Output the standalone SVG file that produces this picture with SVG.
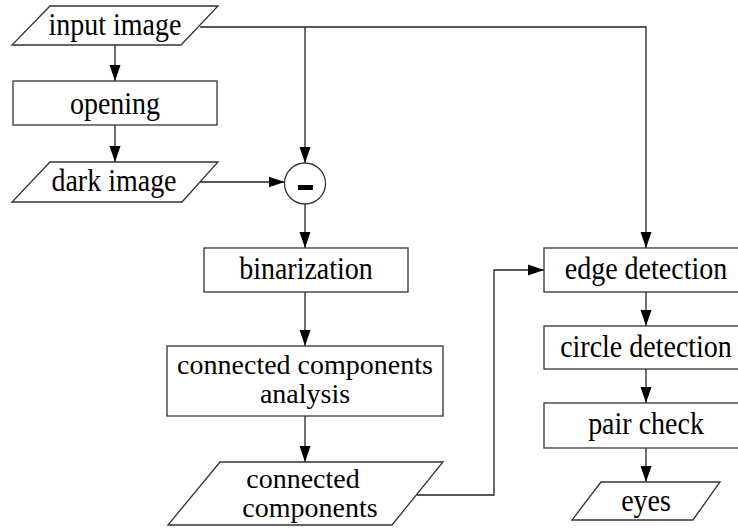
<svg xmlns="http://www.w3.org/2000/svg" width="738" height="529" viewBox="0 0 738 529">
  <style>
    .shape { fill: #ffffff; stroke: #333333; stroke-width: 1.3; }
    .label { font-family: "Liberation Serif", "Times New Roman", serif; font-size: 28px; fill: #000000; text-anchor: middle; }
    .wire { fill: none; stroke: #222222; stroke-width: 1.3; }
  </style>
  <defs>
    <marker id="arrow" markerWidth="16" markerHeight="12" refX="16" refY="6" orient="auto" markerUnits="userSpaceOnUse">
      <path d="M0,0.5 L16,6 L0,11.5 Z" fill="#000000"/>
    </marker>
  </defs>
  <rect width="738" height="529" fill="#ffffff"/>

  <!-- connectors -->
  <g id="connectors">
    <path class="wire" d="M115,45 V81" marker-end="url(#arrow)"/>
    <path class="wire" d="M115,125 V162" marker-end="url(#arrow)"/>
    <path class="wire" d="M200,27 H646 V248" marker-end="url(#arrow)"/>
    <path class="wire" d="M305,27 V163" marker-end="url(#arrow)"/>
    <path class="wire" d="M200,182 H284.5" marker-end="url(#arrow)"/>
    <path class="wire" d="M305,204 V248" marker-end="url(#arrow)"/>
    <path class="wire" d="M305,292 V346" marker-end="url(#arrow)"/>
    <path class="wire" d="M305,416 V462" marker-end="url(#arrow)"/>
    <path class="wire" d="M417,495 H494 V270 H544" marker-end="url(#arrow)"/>
    <path class="wire" d="M646,292 V326" marker-end="url(#arrow)"/>
    <path class="wire" d="M646,369 V403" marker-end="url(#arrow)"/>
    <path class="wire" d="M646,448 V482" marker-end="url(#arrow)"/>
  </g>

  <!-- single-line labels are set slightly tall: scale(1,1.15) about the baseline point -->
  <g id="input-image">
    <polygon class="shape" points="50,6 218,6 181,45 12,45"/>
    <text class="label" transform="translate(115,35) scale(1,1.15)">input image</text>
  </g>
  <g id="opening">
    <rect class="shape" x="13" y="81" width="204" height="44"/>
    <text class="label" transform="translate(115,113.5) scale(1,1.15)">opening</text>
  </g>
  <g id="dark-image">
    <polygon class="shape" points="50,162 218,162 182,202 12,202"/>
    <text class="label" transform="translate(114,191) scale(1,1.15)">dark image</text>
  </g>
  <g id="subtract">
    <circle class="shape" cx="305" cy="183.5" r="20.5"/>
    <rect x="298" y="185" width="15" height="5" fill="#000000"/>
  </g>
  <g id="binarization">
    <rect class="shape" x="204" y="248" width="204" height="44"/>
    <text class="label" transform="translate(306,279) scale(1,1.15)">binarization</text>
  </g>
  <g id="cc-analysis">
    <rect class="shape" x="167" y="346" width="276" height="70"/>
    <text class="label" x="305" y="374">connected components</text>
    <text class="label" x="305" y="403">analysis</text>
  </g>
  <g id="connected-components">
    <polygon class="shape" points="220,462 443,462 392,525 168,525"/>
    <text class="label" x="303" y="488">connected</text>
    <text class="label" x="310" y="517">components</text>
  </g>
  <g id="edge-detection">
    <rect class="shape" x="544" y="248" width="204" height="44"/>
    <text class="label" transform="translate(646,279) scale(1,1.15)">edge detection</text>
  </g>
  <g id="circle-detection">
    <rect class="shape" x="544" y="326" width="204" height="43"/>
    <text class="label" transform="translate(646,357) scale(1,1.15)">circle detection</text>
  </g>
  <g id="pair-check">
    <rect class="shape" x="544" y="403" width="204" height="45"/>
    <text class="label" transform="translate(646,433.5) scale(1,1.15)">pair check</text>
  </g>
  <g id="eyes">
    <polygon class="shape" points="601,482 720,482 693,520 572,520"/>
    <text class="label" transform="translate(646,511) scale(1,1.15)">eyes</text>
  </g>
</svg>
